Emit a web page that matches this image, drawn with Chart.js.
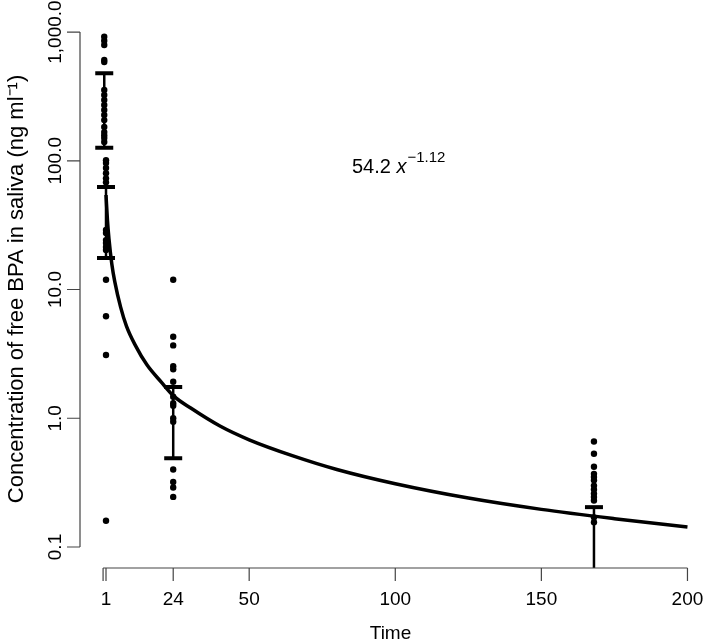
<!DOCTYPE html>
<html>
<head>
<meta charset="utf-8">
<script src="https://cdn.jsdelivr.net/npm/chart.js@4.4.1/dist/chart.umd.min.js"></script>
<style>
  html, body { margin: 0; padding: 0; background: #fff; overflow: hidden; }
  #wrap { width: 709px; height: 642px; position: relative; }
</style>
</head>
<body>
<div id="wrap"><canvas id="chart" width="709" height="642"></canvas></div>
<script>
// axis ticks
const xTicks = [0, 1, 24, 50, 100, 150, 200];
const xTickLabels = ['', '1', '24', '50', '100', '150', '200'];
const yTicks = [0.1, 1, 10, 100, 1000];
const yTickLabels = ['0.1', '1.0', '10.0', '100.0', '1,000.0'];

// sampling times (h)
const timeEarly = 0.4;
const time1 = 1;
const time24 = 24;
const time168 = 168;

const concEarly = [918, 855, 792, 607, 585, 355, 324, 297, 271, 248, 227, 207, 183, 167, 158, 150, 140];
const conc1 = [101, 96, 88, 80, 73, 68, 29, 27.5, 24.2, 23, 21.4, 20.3, 11.9, 6.2, 3.1, 0.16];
const conc24 = [11.9, 4.3, 3.68, 2.54, 2.4, 1.92, 1.47, 1.31, 1.25, 1.0, 0.94, 0.4, 0.32, 0.29, 0.245];
const conc168 = [0.66, 0.53, 0.42, 0.37, 0.35, 0.33, 0.30, 0.28, 0.26, 0.245, 0.23, 0.17, 0.156];

// error bars
const barTimes = [0.4, 1, 24, 168];
const barLow = [126, 17.6, 0.49, 0.01];
const barHigh = [478, 62.5, 1.75, 0.204];

// fitted curve 54.2 x^-1.12
const fitX = [1, 1.5, 2, 3, 4, 6, 8, 11, 15, 20, 24, 30, 40, 50, 65, 80, 100, 125, 150, 175, 200];
const fitY = [54.2, 34.4, 24.9, 15.7, 11.5, 7.3, 5.2, 3.7, 2.6, 1.9, 1.5, 1.2, 0.87, 0.68, 0.51, 0.40, 0.31, 0.24, 0.196, 0.166, 0.143];

const FONT = '"Liberation Sans", Arial, sans-serif';

function toPoints(t, arr) {
    return arr.map(v => ({x: t, y: v}));
}

const scatterData = []
    .concat(toPoints(timeEarly, concEarly))
    .concat(toPoints(time1, conc1))
    .concat(toPoints(time24, conc24))
    .concat(toPoints(time168, conc168));

const fitData = fitX.map((x, i) => ({x: x, y: fitY[i]}));

const axesPlugin = {
    id: 'rAxes',
    afterDatasetsDraw(chart) {
        const ctx = chart.ctx;
        const xs = chart.scales.x;
        const ys = chart.scales.y;
        const area = chart.chartArea;

        // error bars
        ctx.save();
        ctx.beginPath();
        ctx.rect(area.left, area.top, area.right - area.left, area.bottom - area.top);
        ctx.clip();
        ctx.strokeStyle = '#000';
        for (let i = 0; i < barTimes.length; i++) {
            const px = xs.getPixelForValue(barTimes[i]);
            const pHi = ys.getPixelForValue(barHigh[i]);
            const pLo = barLow[i] < ys.min ? area.bottom : ys.getPixelForValue(barLow[i]);
            ctx.lineWidth = 2.5;
            ctx.beginPath();
            ctx.moveTo(px, pHi);
            ctx.lineTo(px, pLo);
            ctx.stroke();
            ctx.lineWidth = 4;
            ctx.beginPath();
            ctx.moveTo(px - 9, pHi);
            ctx.lineTo(px + 9, pHi);
            if (barLow[i] >= ys.min) {
                ctx.moveTo(px - 9, pLo);
                ctx.lineTo(px + 9, pLo);
            }
            ctx.stroke();
        }
        ctx.restore();
    },
    afterDraw(chart) {
        const ctx = chart.ctx;
        const xs = chart.scales.x;
        const ys = chart.scales.y;
        const area = chart.chartArea;
        ctx.save();
        ctx.strokeStyle = '#444';
        ctx.lineWidth = 1.2;
        ctx.fillStyle = '#000';
        ctx.font = '19px ' + FONT;

        // x axis
        const y0 = area.bottom;
        ctx.beginPath();
        ctx.moveTo(xs.getPixelForValue(xTicks[0]), y0);
        ctx.lineTo(xs.getPixelForValue(xTicks[xTicks.length - 1]), y0);
        xTicks.forEach(t => {
            const px = xs.getPixelForValue(t);
            ctx.moveTo(px, y0);
            ctx.lineTo(px, y0 + 13);
        });
        ctx.stroke();
        ctx.textAlign = 'center';
        ctx.textBaseline = 'alphabetic';
        xTicks.forEach((t, i) => {
            ctx.fillText(xTickLabels[i], xs.getPixelForValue(t), 605);
        });
        ctx.fillText('Time', (area.left + area.right) / 2 - 2, 639);

        // y axis
        const x0 = area.left;
        ctx.beginPath();
        ctx.moveTo(x0, ys.getPixelForValue(yTicks[0]));
        ctx.lineTo(x0, ys.getPixelForValue(yTicks[yTicks.length - 1]));
        yTicks.forEach(t => {
            const py = ys.getPixelForValue(t);
            ctx.moveTo(x0, py);
            ctx.lineTo(x0 - 13, py);
        });
        ctx.stroke();
        yTicks.forEach((t, i) => {
            ctx.save();
            ctx.translate(61, ys.getPixelForValue(t));
            ctx.rotate(-Math.PI / 2);
            ctx.fillText(yTickLabels[i], 0, 0);
            ctx.restore();
        });
        ctx.save();
        ctx.font = '22px ' + FONT;
        ctx.translate(23, (area.top + area.bottom) / 2);
        ctx.rotate(-Math.PI / 2);
        ctx.fillText('Concentration of free BPA in saliva (ng ml\u207B\u00B9)', 0, 0);
        ctx.restore();

        // fit equation
        ctx.textAlign = 'left';
        ctx.font = '20px ' + FONT;
        let tx = 352;
        ctx.fillText('54.2 ', tx, 173);
        tx += ctx.measureText('54.2 ').width;
        ctx.font = 'italic 20px ' + FONT;
        ctx.fillText('x', tx, 173);
        tx += ctx.measureText('x').width + 1;
        ctx.font = '15px ' + FONT;
        ctx.fillText('\u22121.12', tx, 162);
        ctx.restore();
    }
};

const chart = new Chart(document.getElementById('chart').getContext('2d'), {
    type: 'scatter',
    data: {
        datasets: [{
            label: 'Fit',
            type: 'line',
            data: fitData,
            borderColor: '#000',
            borderWidth: 3.5,
            pointRadius: 0,
            fill: false,
            cubicInterpolationMode: 'monotone',
            order: 2
        }, {
            label: 'Saliva BPA',
            data: scatterData,
            backgroundColor: '#000',
            borderColor: '#000',
            pointRadius: 3.2,
            borderWidth: 0,
            order: 1
        }]
    },
    options: {
        responsive: false,
        animation: false,
        layout: {
            padding: {left: 80, right: 0, top: 10, bottom: 74}
        },
        plugins: {
            legend: {display: false},
            tooltip: {enabled: false}
        },
        scales: {
            x: {
                type: 'linear',
                display: false,
                min: -7.9,
                max: 206
            },
            y: {
                type: 'logarithmic',
                display: false,
                min: 0.0687,
                max: 1483
            }
        }
    },
    plugins: [axesPlugin]
});
</script>
</body>
</html>
